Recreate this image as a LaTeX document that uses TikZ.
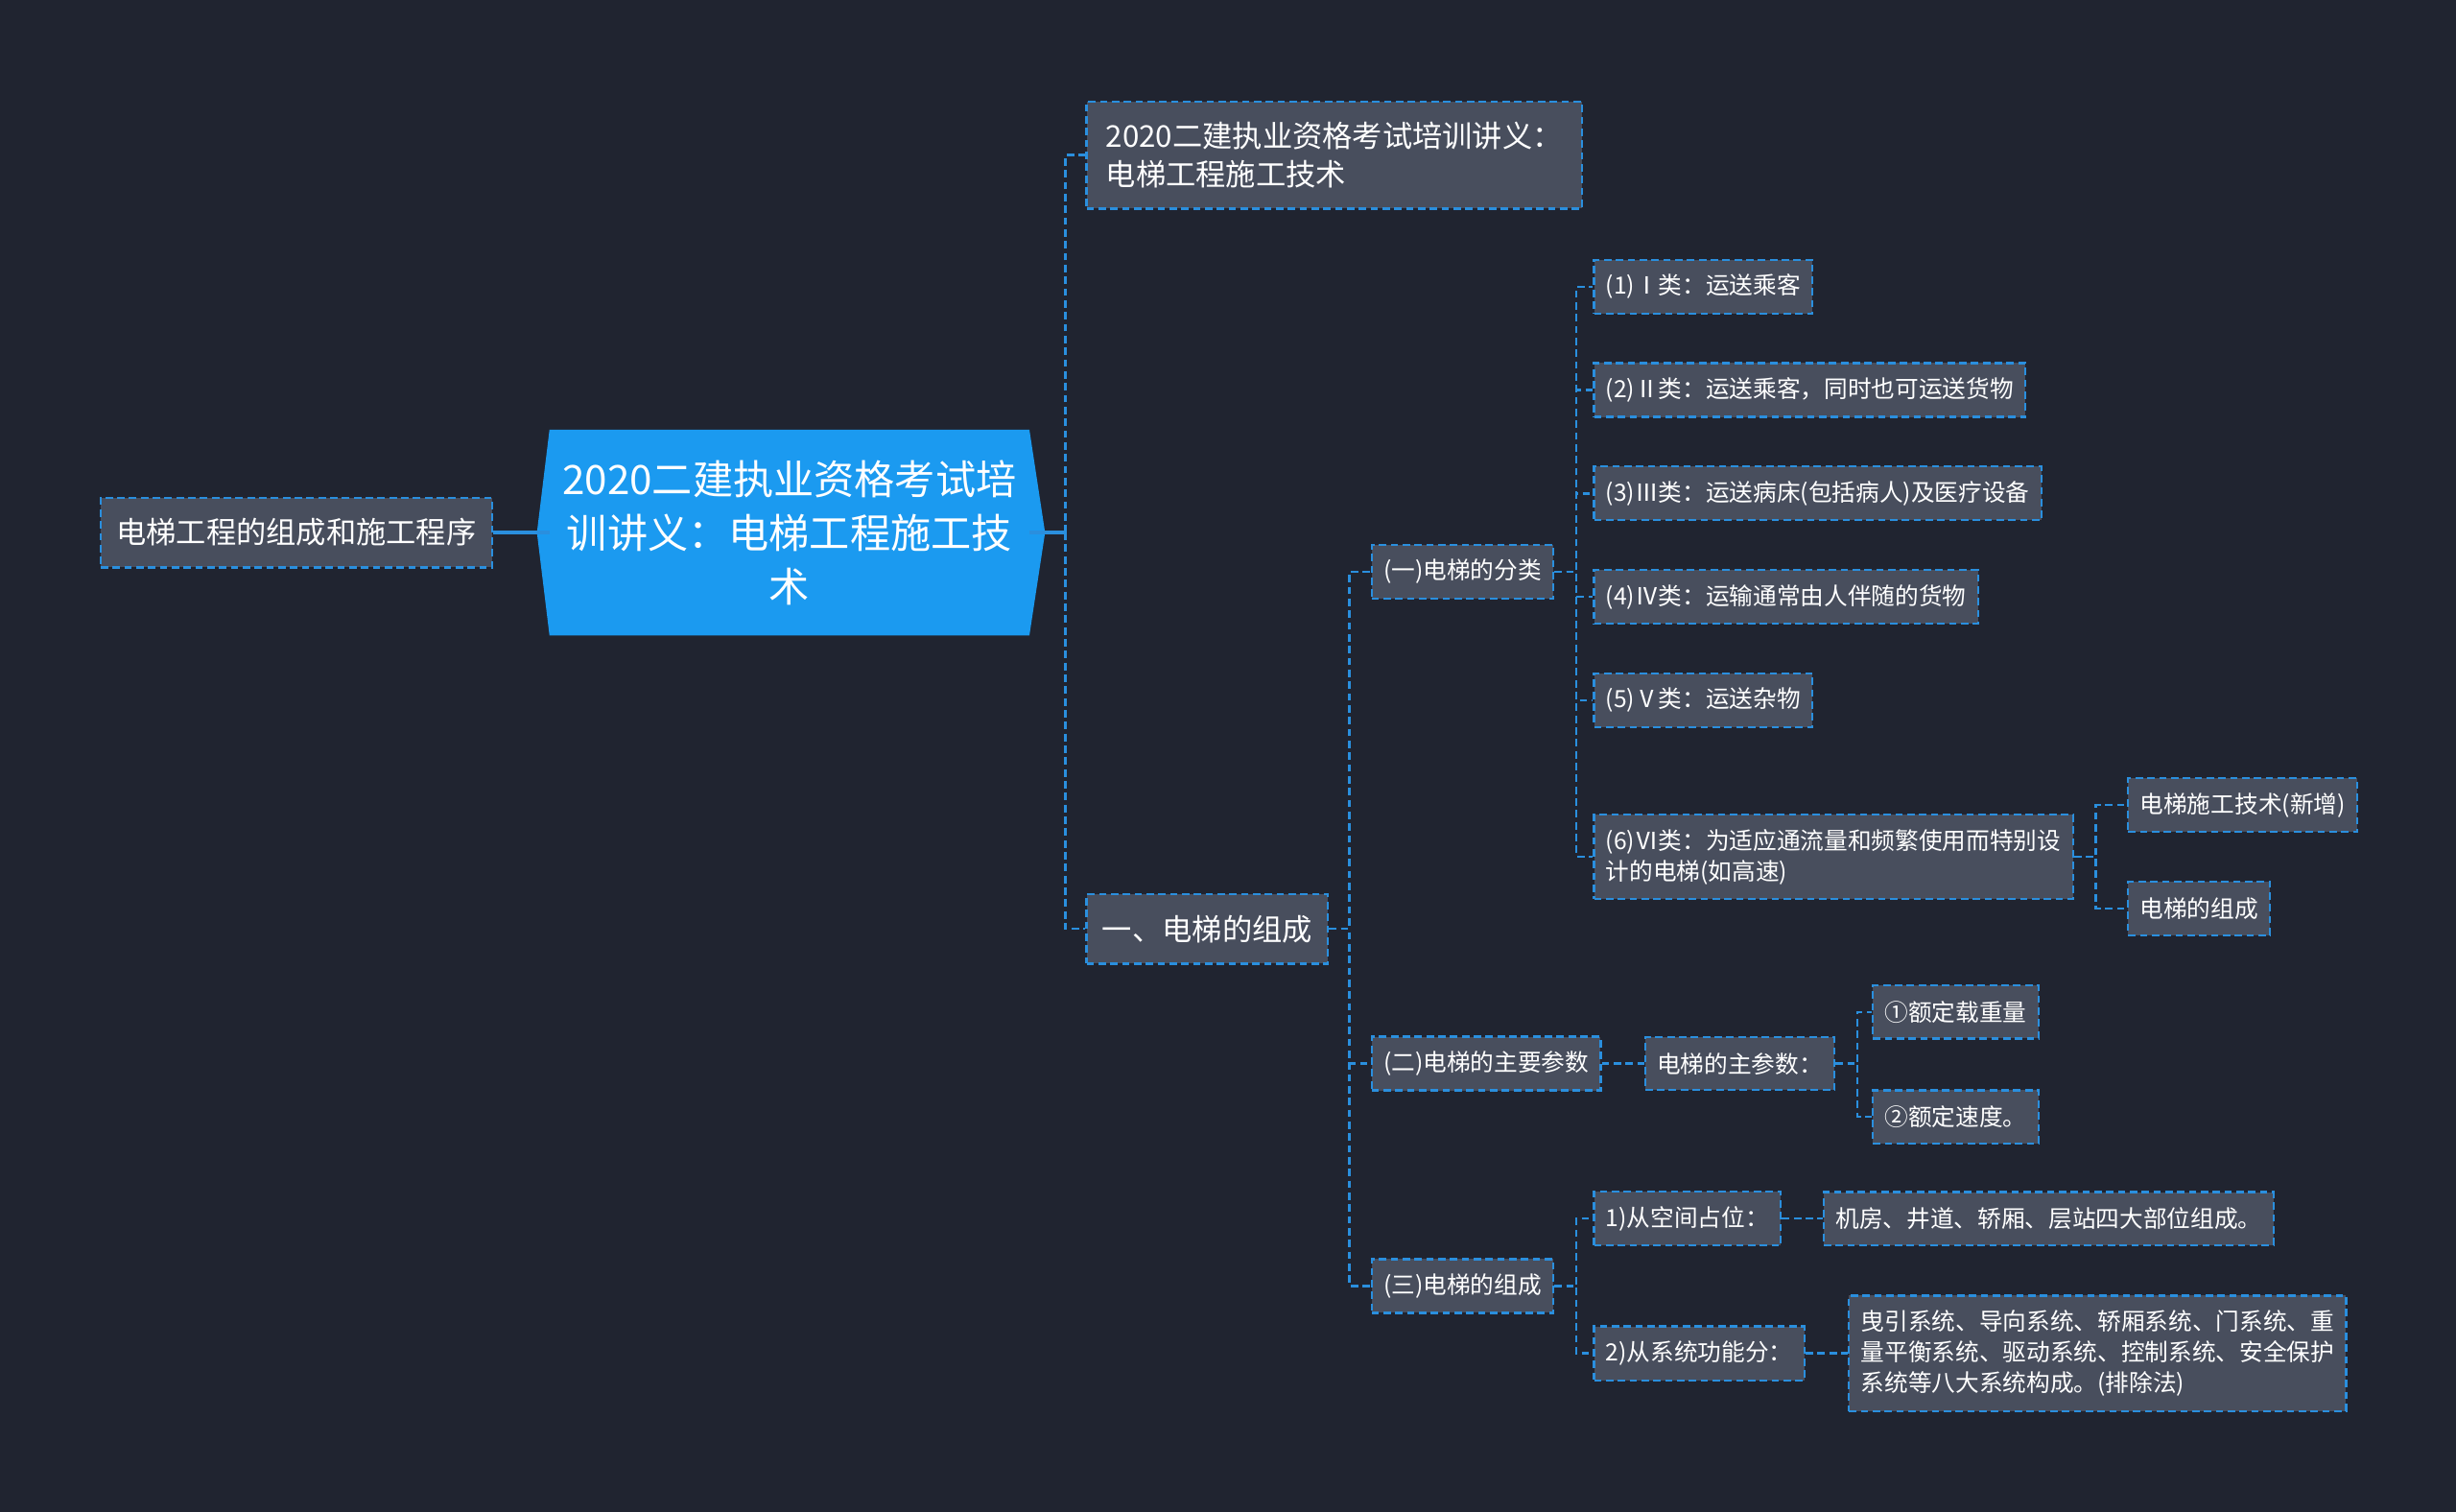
\documentclass[tikz,border=0pt]{standalone}
\usepackage{fontspec}
\setmainfont{Noto Sans CJK SC}
\usetikzlibrary{positioning,backgrounds}
\definecolor{bgcol}{RGB}{32,36,48}
\definecolor{boxcol}{RGB}{72,78,93}
\definecolor{linecol}{RGB}{42,143,222}
\definecolor{rootcol}{RGB}{27,154,240}

\begin{document}
\begin{tikzpicture}[x=0.02cm, y=-0.02cm,
    card/.style = {draw=linecol, fill=boxcol, line width=0.8pt, dash pattern=on 2.7pt off 1.6pt, text=white, anchor=west, align=left},
    leaf/.style = {card, font=\fontsize{8.6}{11.2}\selectfont, inner xsep=4.3pt, inner ysep=5.3pt, minimum height=19.3pt},
    topic/.style = {card, font=\fontsize{10.9}{14.2}\selectfont, inner xsep=5.7pt, inner ysep=7.3pt, minimum height=25.3pt},
    centre/.style = {text=white, align=center, inner sep=0pt, minimum width=174pt, minimum height=74.3pt, font=\fontsize{14.7}{19.6}\selectfont},
    link/.style = {draw=linecol, line width=0.85pt, dash pattern=on 2.7pt off 1.6pt},
    mainlink/.style = {draw=linecol, line width=1.3pt}]
    \useasboundingbox (0,0) rectangle (1568,965);

    \node[centre] (root) at (504,340) {2020二建执业资格考试培\\训讲义：电梯工程施工技\\术};
    \node[topic] (left) [left=0.72cm of root] {电梯工程的组成和施工程序};

    \node[topic, minimum width=180pt] (title) at (693,99) {2020二建执业资格考试培训讲义：\\电梯工程施工技术};
    \node[topic] (sec1) at (693,593) {一、电梯的组成};

    \node[leaf] (cls) at (875,365) {(一)电梯的分类};
    \node[leaf] (c1) at (1017,183) {(1)Ⅰ类：运送乘客};
    \node[leaf] (c2) at (1017,249) {(2)Ⅱ类：运送乘客，同时也可运送货物};
    \node[leaf] (c3) at (1017,315) {(3)Ⅲ类：运送病床(包括病人)及医疗设备};
    \node[leaf] (c4) at (1017,381) {(4)Ⅳ类：运输通常由人伴随的货物};
    \node[leaf] (c5) at (1017,447) {(5)Ⅴ类：运送杂物};
    \node[leaf] (c6) at (1017,547) {(6)Ⅵ类：为适应通流量和频繁使用而特别设\\计的电梯(如高速)};
    \node[leaf] (c6a) at (1358,514) {电梯施工技术(新增)};
    \node[leaf] (c6b) at (1358,580) {电梯的组成};

    \node[leaf] (par) at (875,679) {(二)电梯的主要参数};
    \node[leaf] (par0) [right=0.54cm of par] {电梯的主参数：};
    \node[leaf] (par1) at (1195,646) {①额定载重量};
    \node[leaf] (par2) at (1195,713) {②额定速度。};

    \node[leaf] (comp) at (875,821) {(三)电梯的组成};
    \node[leaf] (comp1) at (1017,778) {1)从空间占位：};
    \node[leaf] (comp1a) [right=0.52cm of comp1] {机房、井道、轿厢、层站四大部位组成。};
    \node[leaf] (comp2) at (1017,864) {2)从系统功能分：};
    \node[leaf] (comp2a) [right=0.54cm of comp2] {曳引系统、导向系统、轿厢系统、门系统、重\\量平衡系统、驱动系统、控制系统、安全保护\\系统等八大系统构成。(排除法)};

    \begin{scope}[on background layer]
        \fill[bgcol] (0,0) rectangle (1568,965);
        \fill[rootcol] (root.north west) -- (root.north east) -- ([xshift=0.2cm]root.east)
            -- (root.south east) -- (root.south west) -- ([xshift=-0.16cm]root.west) -- cycle;
    \end{scope}

    \draw[mainlink] (left) -- (root);
    \draw[mainlink] (root.east) -- ++(0.46cm,0);
    \draw[link] (root.east) ++(0.46cm,0) |- (title.west);
    \draw[link] (root.east) ++(0.46cm,0) |- (sec1.west);

    \draw[link] (sec1.east) -- ++(0.26cm,0) |- (cls.west);
    \draw[link] (sec1.east) -- ++(0.26cm,0) |- (par.west);
    \draw[link] (sec1.east) -- ++(0.26cm,0) |- (comp.west);

    \draw[link] (cls.east) -- ++(0.28cm,0) |- (c1.west);
    \draw[link] (cls.east) -- ++(0.28cm,0) |- (c2.west);
    \draw[link] (cls.east) -- ++(0.28cm,0) |- (c3.west);
    \draw[link] (cls.east) -- ++(0.28cm,0) |- (c4.west);
    \draw[link] (cls.east) -- ++(0.28cm,0) |- (c5.west);
    \draw[link] (cls.east) -- ++(0.28cm,0) |- (c6.west);
    \draw[link] (c6.east) -- ++(0.28cm,0) |- (c6a.west);
    \draw[link] (c6.east) -- ++(0.28cm,0) |- (c6b.west);

    \draw[link] (par) -- (par0);
    \draw[link] (par0.east) -- ++(0.28cm,0) |- (par1.west);
    \draw[link] (par0.east) -- ++(0.28cm,0) |- (par2.west);

    \draw[link] (comp.east) -- ++(0.28cm,0) |- (comp1.west);
    \draw[link] (comp.east) -- ++(0.28cm,0) |- (comp2.west);
    \draw[link] (comp1) -- (comp1a);
    \draw[link] (comp2) -- (comp2a);

\end{tikzpicture}
\end{document}
